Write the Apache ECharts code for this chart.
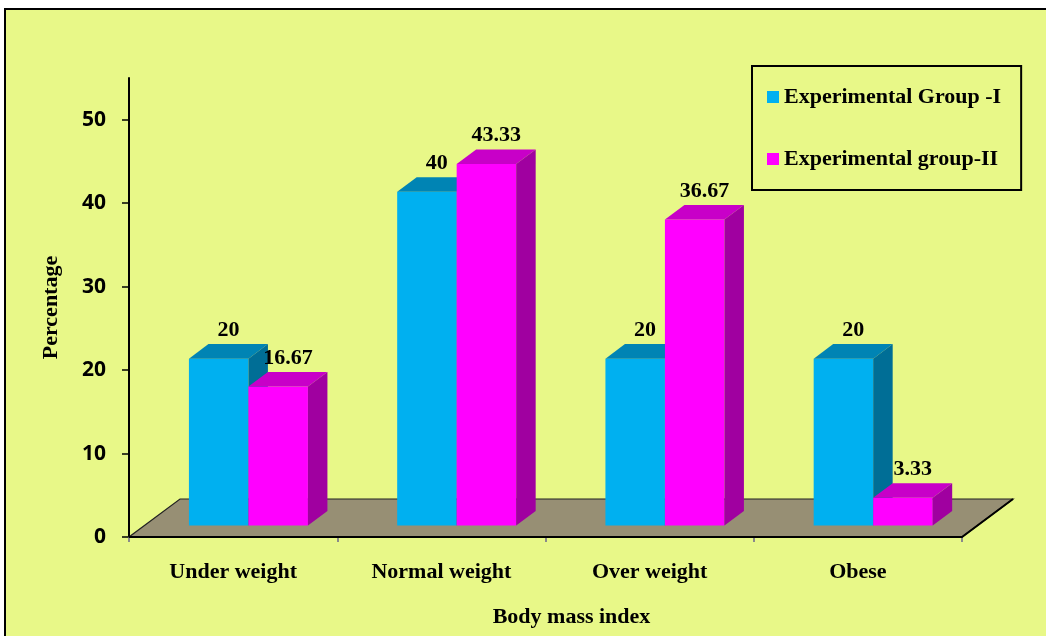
<!DOCTYPE html>
<html>
<head>
<meta charset="utf-8">
<title>Body mass index</title>
<script src="https://cdn.jsdelivr.net/npm/echarts@6/dist/echarts.min.js"></script>
<style>
    html, body { margin: 0; padding: 0; background: #ffffff; overflow: hidden; }
    #frame { position: absolute; left: 4px; top: 8px; width: 1100px; height: 700px;
             border: 2px solid #000; background: #E8F888; }
    #main { position: absolute; left: 0; top: 0; width: 1046px; height: 636px; }
</style>
</head>
<body>
<div id="frame"></div>
<div id="main"></div>
<script>
// 数据
var categories = ['Under weight', 'Normal weight', 'Over weight', 'Obese'];
var groupOne = [20, 40, 20, 20];
var groupTwo = [16.67, 43.33, 36.67, 3.33];
var groupOneLabels = ['20', '40', '20', '20'];
var groupTwoLabels = ['16.67', '43.33', '36.67', '3.33'];
var yTicks = [0, 10, 20, 30, 40, 50];

// 3D 偏移 (px)
var FLOOR_DX = 51, FLOOR_DY = -38;
var FRONT_DX = 15.3, FRONT_DY = -11.4;
var DEPTH_DX = 19.5, DEPTH_DY = -14.6;
var serif = '"Liberation Serif", "Times New Roman", serif';

function floorRender(params, api) {
    var cs = params.coordSys;
    var y0 = api.coord([0, 0])[1];
    var xl = cs.x, xr = cs.x + cs.width;
    return {
        type: 'group',
        children: [{
            type: 'polygon',
            shape: { points: [[xl, y0], [xr, y0], [xr + FLOOR_DX, y0 + FLOOR_DY], [xl + FLOOR_DX, y0 + FLOOR_DY]] },
            style: { fill: '#978F74', stroke: '#222', lineWidth: 1.2 }
        }, {
            type: 'polyline',
            shape: { points: [[xl, y0], [xr, y0], [xr + FLOOR_DX, y0 + FLOOR_DY]] },
            style: { fill: null, stroke: '#000', lineWidth: 2 }
        }]
    };
}

function barRender(side, colors, labels) {
    return function (params, api) {
        var cat = api.value(0), val = api.value(1);
        var band = api.size([1, 0])[0];
        var w = band * 0.2857;
        var base = api.coord([cat, 0]);
        var top = api.coord([cat, val]);
        var x0 = base[0] + FRONT_DX - (side === 0 ? w : 0);
        var x1 = x0 + w;
        var yb = base[1] + FRONT_DY, yt = top[1] + FRONT_DY;
        return {
            type: 'group',
            children: [{
                type: 'rect',
                shape: { x: x0, y: yt, width: w, height: yb - yt },
                style: { fill: colors[0] }
            }, {
                type: 'polygon',
                shape: { points: [[x0, yt], [x1, yt], [x1 + DEPTH_DX, yt + DEPTH_DY], [x0 + DEPTH_DX, yt + DEPTH_DY]] },
                style: { fill: colors[1] }
            }, {
                type: 'polygon',
                shape: { points: [[x1, yt], [x1 + DEPTH_DX, yt + DEPTH_DY], [x1 + DEPTH_DX, yb + DEPTH_DY], [x1, yb]] },
                style: { fill: colors[2] }
            }, {
                type: 'text',
                style: {
                    text: labels[params.dataIndex],
                    x: x0 + w / 2 + DEPTH_DX / 2,
                    y: yt + DEPTH_DY - 3,
                    align: 'center',
                    verticalAlign: 'bottom',
                    font: 'bold 22px ' + serif,
                    fill: '#000'
                }
            }]
        };
    };
}

var chart = echarts.init(document.getElementById('main'));

var option = {
    backgroundColor: 'transparent',
    animation: false,
    grid: { left: 129, right: 84, top: 78, bottom: 99 },
    legend: {
        data: ['Experimental Group -I', 'Experimental group-II'],
        orient: 'vertical',
        left: 752,
        top: 66,
        padding: [20, 20, 20, 15],
        itemGap: 40,
        itemWidth: 12,
        itemHeight: 12,
        icon: 'rect',
        borderColor: '#000',
        borderWidth: 2,
        textStyle: { fontFamily: serif, fontWeight: 'bold', fontSize: 22, color: '#000' }
    },
    xAxis: {
        type: 'category',
        data: categories,
        name: 'Body mass index',
        nameLocation: 'middle',
        nameGap: 69,
        nameTextStyle: { fontFamily: serif, fontWeight: 'bold', fontSize: 22, color: '#000', padding: [0, 0, 0, 52] },
        axisLine: { lineStyle: { color: '#000', width: 2 } },
        axisTick: { show: true, length: 5, lineStyle: { color: '#8a8a8a', width: 2 } },
        axisLabel: { margin: 24, fontFamily: serif, fontWeight: 'bold', fontSize: 22, color: '#000' }
    },
    yAxis: {
        type: 'value',
        min: 0,
        max: 55,
        interval: 10,
        name: 'Percentage',
        nameLocation: 'middle',
        nameGap: 67,
        nameTextStyle: { fontFamily: serif, fontWeight: 'bold', fontSize: 22, color: '#000' },
        splitLine: { show: false },
        axisLine: { show: true, lineStyle: { color: '#000', width: 2 } },
        axisTick: { show: true, length: 7, customValues: yTicks, lineStyle: { color: '#000', width: 1.5 } },
        axisLabel: { margin: 23, customValues: yTicks, fontFamily: '"Open Sans", sans-serif', fontWeight: 'bold', fontSize: 21, color: '#000' }
    },
    series: [{
        name: 'floor',
        type: 'custom',
        silent: true,
        z: 1,
        renderItem: floorRender,
        data: [[0, 0]]
    }, {
        name: 'Experimental Group -I',
        type: 'custom',
        z: 2,
        itemStyle: { color: '#00B0F0' },
        renderItem: barRender(0, ['#00B0F0', '#0084B4', '#006E96'], groupOneLabels),
        encode: { x: 0, y: 1 },
        data: groupOne.map(function (v, i) { return [i, v]; })
    }, {
        name: 'Experimental group-II',
        type: 'custom',
        z: 2,
        itemStyle: { color: '#FF00FF' },
        renderItem: barRender(1, ['#FF00FF', '#C800C8', '#A000A0'], groupTwoLabels),
        encode: { x: 0, y: 1 },
        data: groupTwo.map(function (v, i) { return [i, v]; })
    }]
};

chart.setOption(option);
</script>
</body>
</html>
